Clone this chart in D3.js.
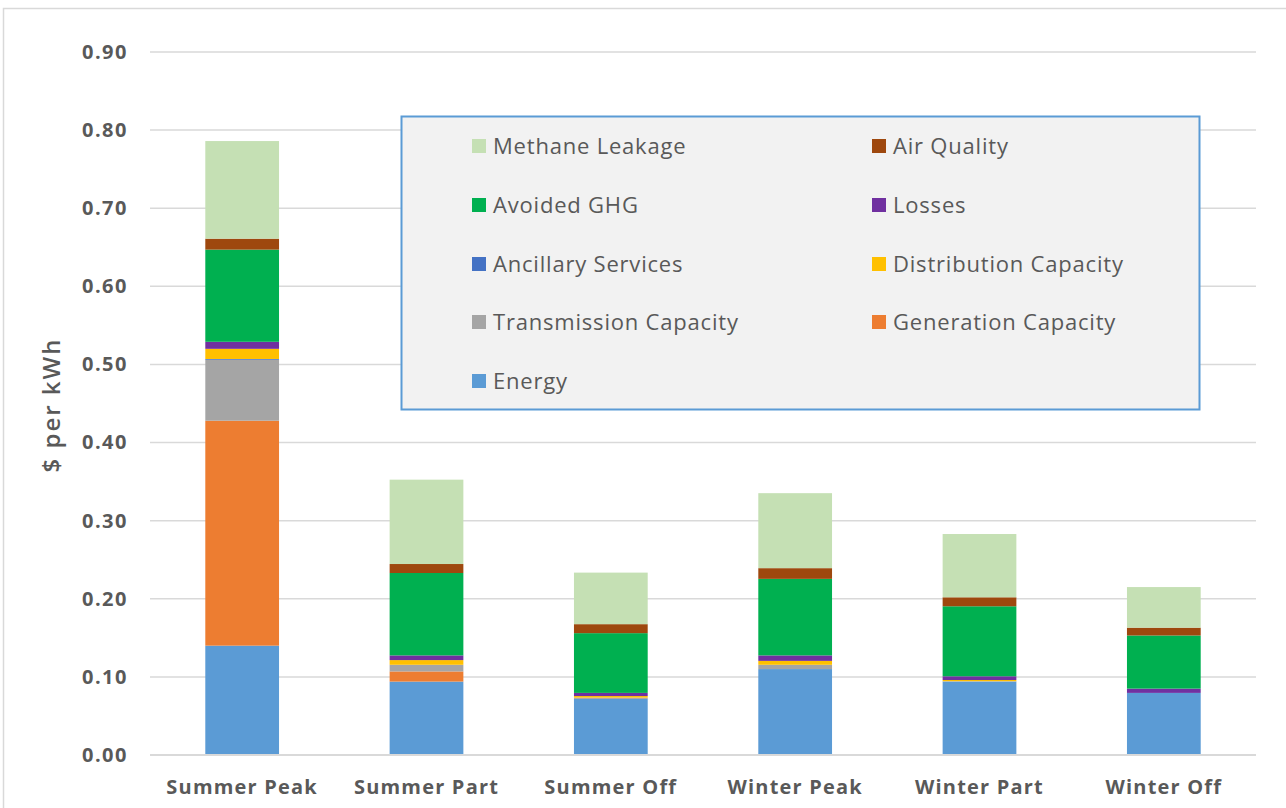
<!DOCTYPE html>
<html>
<head>
<meta charset="utf-8">
<script src="https://cdn.jsdelivr.net/npm/d3@7/dist/d3.min.js"></script>
<style>
  html, body { margin: 0; padding: 0; background: #fff; }
  svg { display: block; }
</style>
</head>
<body>
<svg id="chart" width="1286" height="808"></svg>
<script>
const categories = ["Summer Peak", "Summer Part", "Summer Off", "Winter Peak", "Winter Part", "Winter Off"];
const seriesNames = ["Energy", "Generation Capacity", "Transmission Capacity", "Ancillary Services",
  "Distribution Capacity", "Losses", "Avoided GHG", "Air Quality", "Methane Leakage"];
const energy       = [0.140, 0.094, 0.0725, 0.110, 0.094, 0.0795];
const generation   = [0.288, 0.013, 0.0005, 0.000, 0.000, 0.000];
const transmission = [0.078, 0.0085, 0.0005, 0.0055, 0.0005, 0.000];
const ancillary    = [0.001, 0.000, 0.000, 0.000, 0.000, 0.000];
const distribution = [0.013, 0.006, 0.002, 0.005, 0.0015, 0.000];
const losses       = [0.009, 0.006, 0.004, 0.007, 0.0048, 0.0055];
const avoidedGHG   = [0.118, 0.1055, 0.0765, 0.098, 0.0896, 0.068];
const airQuality   = [0.014, 0.0115, 0.0115, 0.0137, 0.0115, 0.010];
const methane      = [0.125, 0.108, 0.066, 0.096, 0.081, 0.052];
const yTicks = [0, 0.1, 0.2, 0.3, 0.4, 0.5, 0.6, 0.7, 0.8, 0.9];
const colors = ["#5b9bd5", "#ed7d31", "#a5a5a5", "#4472c4", "#ffc000", "#7030a0", "#00b050", "#9e480e", "#c5e0b4"];
const legendOrder = ["Methane Leakage", "Air Quality", "Avoided GHG", "Losses", "Ancillary Services",
  "Distribution Capacity", "Transmission Capacity", "Generation Capacity", "Energy"];

const seriesValues = [energy, generation, transmission, ancillary, distribution, losses, avoidedGHG, airQuality, methane];
const table = categories.map((c, i) => {
  const row = { category: c };
  seriesNames.forEach((s, k) => row[s] = seriesValues[k][i]);
  return row;
});

const svg = d3.select("#chart");
const textColor = "#595959";
const gridColor = "#d9d9d9";
const font = "'Open Sans', sans-serif";

// outer chart border
svg.append("rect").attr("x", 3.5).attr("y", 8.5).attr("width", 1300).attr("height", 820)
  .attr("fill", "none").attr("stroke", gridColor).attr("stroke-width", 1.5);

const x = d3.scaleBand().domain(categories).range([150, 1256]).paddingInner(0.6).paddingOuter(0.3);
const y = d3.scaleLinear().domain([0, 0.9]).range([755, 52]);

// gridlines
svg.append("g").selectAll("line").data(yTicks.filter(t => t > 0)).join("line")
  .attr("x1", 150).attr("x2", 1256)
  .attr("y1", d => y(d)).attr("y2", d => y(d))
  .attr("stroke", gridColor).attr("stroke-width", 1.5);

// y axis labels
const yAxis = d3.axisLeft(y).tickValues(yTicks).tickFormat(d3.format(".2f")).tickSize(0).tickPadding(0);
const yg = svg.append("g").attr("transform", "translate(128,0)").call(yAxis);
yg.select(".domain").remove();
yg.selectAll("text").attr("fill", textColor).attr("font-family", font)
  .attr("font-weight", "bold").attr("font-size", 20).attr("letter-spacing", 1.5);

// stacked bars
const stack = d3.stack().keys(seriesNames);
const stacked = stack(table);
svg.append("g").selectAll("g").data(stacked).join("g")
  .attr("fill", (d, i) => colors[i])
  .selectAll("rect").data(d => d).join("rect")
  .attr("x", d => x(d.data.category))
  .attr("width", x.bandwidth())
  .attr("y", d => y(d[1]))
  .attr("height", d => Math.max(0, y(d[0]) - y(d[1])));

// x axis
const xAxis = d3.axisBottom(x).tickSize(0).tickPadding(25);
const xg = svg.append("g").attr("transform", "translate(0,755)").call(xAxis);
xg.select(".domain").attr("stroke", gridColor).attr("stroke-width", 2).attr("d", "M150,0H1256");
xg.selectAll("text").attr("fill", textColor).attr("font-family", font)
  .attr("font-weight", "bold").attr("font-size", 20).attr("letter-spacing", 1.2);

// y axis title
svg.append("text").attr("transform", "translate(52,405) rotate(-90)")
  .attr("text-anchor", "middle").attr("dy", "0.35em").attr("fill", textColor)
  .attr("font-family", font).attr("font-weight", 600).attr("font-size", 24).attr("letter-spacing", 2)
  .text("$ per kWh");

// legend
svg.append("rect").attr("x", 401.5).attr("y", 116.5).attr("width", 798).attr("height", 293)
  .attr("fill", "#f2f2f2").attr("stroke", "#5b9bd5").attr("stroke-width", 2);
const rowY = [146, 205, 264, 322, 381];
const colX = [472, 872];
const lg = svg.append("g").selectAll("g").data(legendOrder).join("g")
  .attr("transform", (d, i) => `translate(${colX[i % 2]},${rowY[Math.floor(i / 2)]})`);
lg.append("rect").attr("x", 0).attr("y", -7).attr("width", 14).attr("height", 14)
  .attr("fill", d => colors[seriesNames.indexOf(d)]);
lg.append("text").attr("x", 21).attr("y", 0).attr("dy", "0.35em")
  .attr("fill", textColor).attr("font-family", font).attr("font-size", 22).attr("letter-spacing", 0.8)
  .text(d => d);
</script>
</body>
</html>
